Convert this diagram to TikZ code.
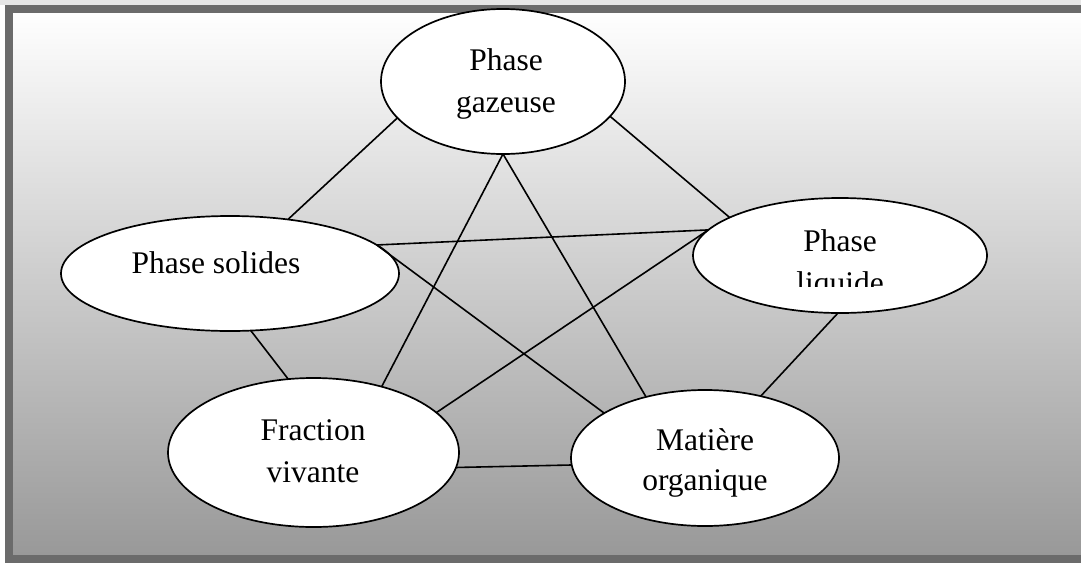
\documentclass[tikz,border=0pt]{standalone}
\usepackage{fontspec}
\setmainfont{Liberation Serif}
\usetikzlibrary{shapes.geometric}
\definecolor{framegray}{HTML}{6B6B6B}
\definecolor{stripgray}{HTML}{E6E6E6}
\definecolor{midgray}{HTML}{D6D6D6}
\definecolor{botgray}{HTML}{989898}
\tikzset{
  bubble/.style={ellipse, draw=black, line width=1.7pt, fill=white, inner sep=0pt, outer sep=0pt},
  lab/.style={anchor=base, inner sep=0pt, font=\fontsize{31.5}{38}\selectfont},
  link/.style={draw=black, line width=1.6pt},
}
\begin{document}
\begin{tikzpicture}[x=1pt,y=-1pt]
\useasboundingbox (0,0) rectangle (1081,565);
\clip (0,0) rectangle (1081,565);
% page background
\fill[white] (0,0) rectangle (1081,565);
\fill[stripgray] (0,0) rectangle (1081,5);
% gradient panel
\shade[top color=white, middle color=midgray, bottom color=botgray] (9,9) rectangle (1090,559);
% frame (right side lies outside the picture)
\draw[framegray, line width=8pt] (1095,9) -- (9,9) -- (9,559) -- (1095,559);

% ellipses
\node[bubble, minimum width=244pt, minimum height=145pt] (gaz) at (503,81.5) {};
\node[bubble, minimum width=338pt, minimum height=115pt] (sol) at (230,273.5) {};
\node[bubble, minimum width=294pt, minimum height=115pt] (liq) at (840,255.5) {};
\node[bubble, minimum width=291pt, minimum height=149pt] (fra) at (313.5,452.5) {};
\node[bubble, minimum width=268pt, minimum height=136pt] (mat) at (705,458) {};

% connectors
\draw[link] (gaz.199) -- (sol.43.5);
\draw[link] (gaz.-18) -- (liq.161);
\draw[link] (gaz.south) -- (fra.44);
\draw[link] (gaz.south) -- (mat.134.5);
\draw[link] (sol.-70) -- (fra.109);
\draw[link] (sol.11) -- (liq.169);
\draw[link] (sol.11) -- (mat.156);
\draw[link] (liq.169) -- (fra.18);
\draw[link] (liq.-92) -- (mat.48.7);
\draw[link] (fra.-6) -- (mat.183.4);

% texts
\node[lab] (gazA) at (506,70.7) {Phase};
\node[lab] (gazB) at (506,112.7) {gazeuse};
\node[lab] (solA) at (216,273) {Phase solides};
\node[lab] (liqA) at (840,251) {Phase};
\begin{scope}
  \clip (700,200) rectangle (980,286);
  \node[lab] (liqB) at (840,293) {liquide};
\end{scope}
\node[lab] (fraA) at (313,440) {Fraction};
\node[lab] (fraB) at (313,482) {vivante};
\node[lab] (matA) at (705,450) {Matière};
\node[lab] (matB) at (705,490) {organique};
\end{tikzpicture}
\end{document}
